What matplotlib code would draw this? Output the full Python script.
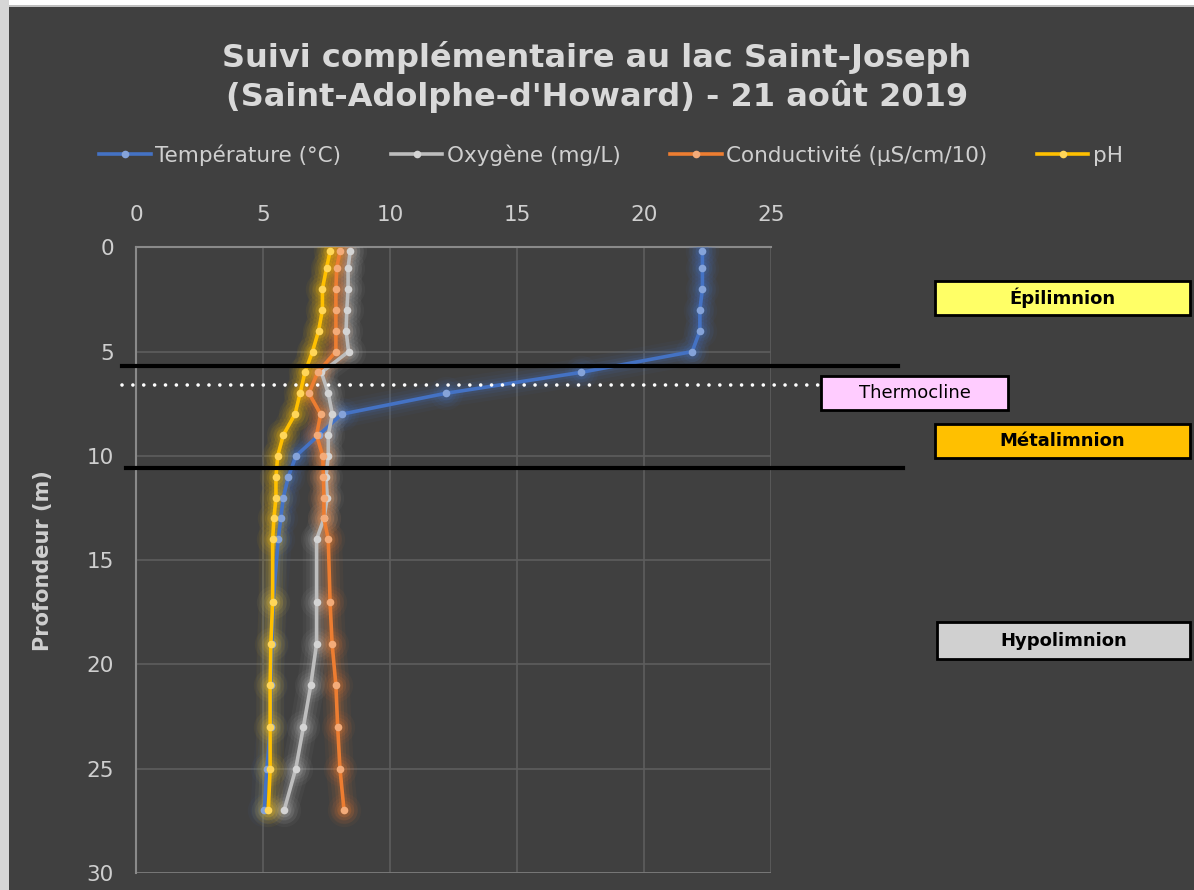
import numpy as np
import matplotlib
matplotlib.use("Agg")
import matplotlib.pyplot as plt
from matplotlib.patches import Rectangle
from matplotlib.colors import to_rgb

depth = [0.2, 1, 2, 3, 4, 5, 6, 7, 8, 9, 10, 11, 12, 13, 14, 17, 19, 21, 23, 25, 27]
temp = [22.3, 22.3, 22.3, 22.2, 22.2, 21.9, 17.5, 12.2, 8.1, 7.2, 6.3, 6.0,
        5.8, 5.7, 5.6, 5.4, 5.35, 5.3, 5.3, 5.15, 5.05]
oxy = [8.43, 8.35, 8.35, 8.3, 8.27, 8.37, 7.3, 7.57, 7.73, 7.57, 7.57, 7.48,
       7.53, 7.4, 7.11, 7.11, 7.11, 6.88, 6.59, 6.29, 5.83]
cond = [8.03, 7.9, 7.87, 7.87, 7.87, 7.87, 7.15, 6.81, 7.27, 7.11, 7.35, 7.38,
        7.4, 7.4, 7.57, 7.64, 7.72, 7.87, 7.94, 8.03, 8.19]
ph = [7.64, 7.5, 7.34, 7.34, 7.19, 6.95, 6.65, 6.46, 6.26, 5.8, 5.58, 5.51,
      5.51, 5.43, 5.38, 5.38, 5.31, 5.28, 5.28, 5.28, 5.21]

series = [
    ("Température (°C)", temp, "#4472C4"),
    ("Oxygène (mg/L)", oxy, "#BDBDBD"),
    ("Conductivité (µS/cm/10)", cond, "#ED7D31"),
    ("pH", ph, "#FFC000"),
]

# limites des couches (m)
epi_bottom = 5.69
thermocline = 6.6
meta_bottom = 10.58

BG = "#404040"
TXT = "#CFCFCF"
W, H = 1194, 890

fig = plt.figure(figsize=(W / 100, H / 100), dpi=100, facecolor="white")
fig.add_artist(Rectangle((0, 0), 9 / W, 1, transform=fig.transFigure,
                         facecolor="#D6D6D6", edgecolor="none", zorder=-11))
fig.add_artist(Rectangle((9 / W, 0), 1 - 9 / W, 1 - 7 / H, transform=fig.transFigure,
                         facecolor=BG, edgecolor="none", zorder=-10))
fig.add_artist(Rectangle((9 / W, 1 - 7 / H), 1 - 9 / W, 2 / H, transform=fig.transFigure,
                         facecolor="#BFBFBF", edgecolor="none", zorder=-9))

ax = fig.add_axes([136 / W, 1 - 873 / H, (771 - 136) / W, (873 - 247.3) / H])
ax.set_facecolor(BG)

def lighten(c, f):
    r, g, b = to_rgb(c)
    return (r + (1 - r) * f, g + (1 - g) * f, b + (1 - b) * f)

# halo doux autour des courbes
for name, vals, col in series:
    for lw, a in [(20, 0.05), (15, 0.07), (10, 0.10), (6, 0.14)]:
        ax.plot(vals, depth, color=col, lw=lw, alpha=a, solid_capstyle="round",
                solid_joinstyle="round", zorder=3)
        ax.plot(vals, depth, ls="none", marker="o", ms=lw + 4, color=col, alpha=a,
                mec="none", zorder=3)
for name, vals, col in series:
    ax.plot(vals, depth, color=col, lw=2.6, marker="o", ms=5.5,
            mfc=lighten(col, 0.35), mec="none", label=name, zorder=4)

ax.set_xlim(0, 25)
ax.set_ylim(30, 0)
ax.set_xticks(np.arange(0, 26, 5))
ax.set_yticks(np.arange(0, 31, 5))
ax.xaxis.tick_top()
ax.tick_params(length=0, colors=TXT, labelsize=15.5, pad=16)
ax.grid(True, color="#5E5E5E", lw=1.2)
ax.set_axisbelow(True)
for s in ["right", "bottom"]:
    ax.spines[s].set_visible(False)
for s in ["left", "top"]:
    ax.spines[s].set_color("#8A8A8A")
    ax.spines[s].set_linewidth(1.5)
ax.axhline(30, color="#7A7A7A", lw=1.3, zorder=1)

ax.set_ylabel("Profondeur (m)", color=TXT, fontsize=15, fontweight="bold", labelpad=24)

# lignes des couches (débordent du graphique)
ytr = ax.get_yaxis_transform()
ax.plot([-0.022, 1.2], [epi_bottom, epi_bottom], color="black", lw=3, transform=ytr,
        clip_on=False, zorder=6)
ax.plot([-0.016, 1.208], [meta_bottom, meta_bottom], color="black", lw=3, transform=ytr,
        clip_on=False, zorder=6)
ax.plot([-0.022, 1.076], [thermocline, thermocline], color="white", lw=2.6, transform=ytr,
        clip_on=False, zorder=6, dashes=(0.01, 3.0), dash_capstyle="round")

def label_box(x0, y0, x1, y1, text, fc, bold=True):
    fig.add_artist(Rectangle((x0 / W, 1 - y1 / H), (x1 - x0) / W, (y1 - y0) / H,
                             transform=fig.transFigure, facecolor=fc, edgecolor="black",
                             lw=2, zorder=8))
    fig.text((x0 + x1) / 2 / W, 1 - (y0 + y1) / 2 / H, text, ha="center", va="center",
             fontsize=13, fontweight="bold" if bold else "normal", color="black", zorder=9)

label_box(935, 281, 1190, 315, "Épilimnion", "#FFFF66")
label_box(821, 376, 1008, 410, "Thermocline", "#FFCCFF", bold=False)
label_box(935, 424, 1190, 458, "Métalimnion", "#FFC000")
label_box(937, 622, 1190, 659, "Hypolimnion", "#D0D0D0")

fig.text(597 / W, 1 - 77 / H, "Suivi complémentaire au lac Saint-Joseph\n(Saint-Adolphe-d'Howard) - 21 août 2019",
         ha="center", va="center", fontsize=23, fontweight="bold", color="#D9D9D9",
         linespacing=1.25)

leg = fig.legend(loc="center", bbox_to_anchor=(611 / W, 1 - 155 / H), ncol=4, frameon=False,
                 fontsize=15.5, handlelength=2.4, handletextpad=0.2, columnspacing=2.3,
                 labelcolor=TXT)

fig.savefig("out.png", dpi=100, facecolor=fig.get_facecolor())
